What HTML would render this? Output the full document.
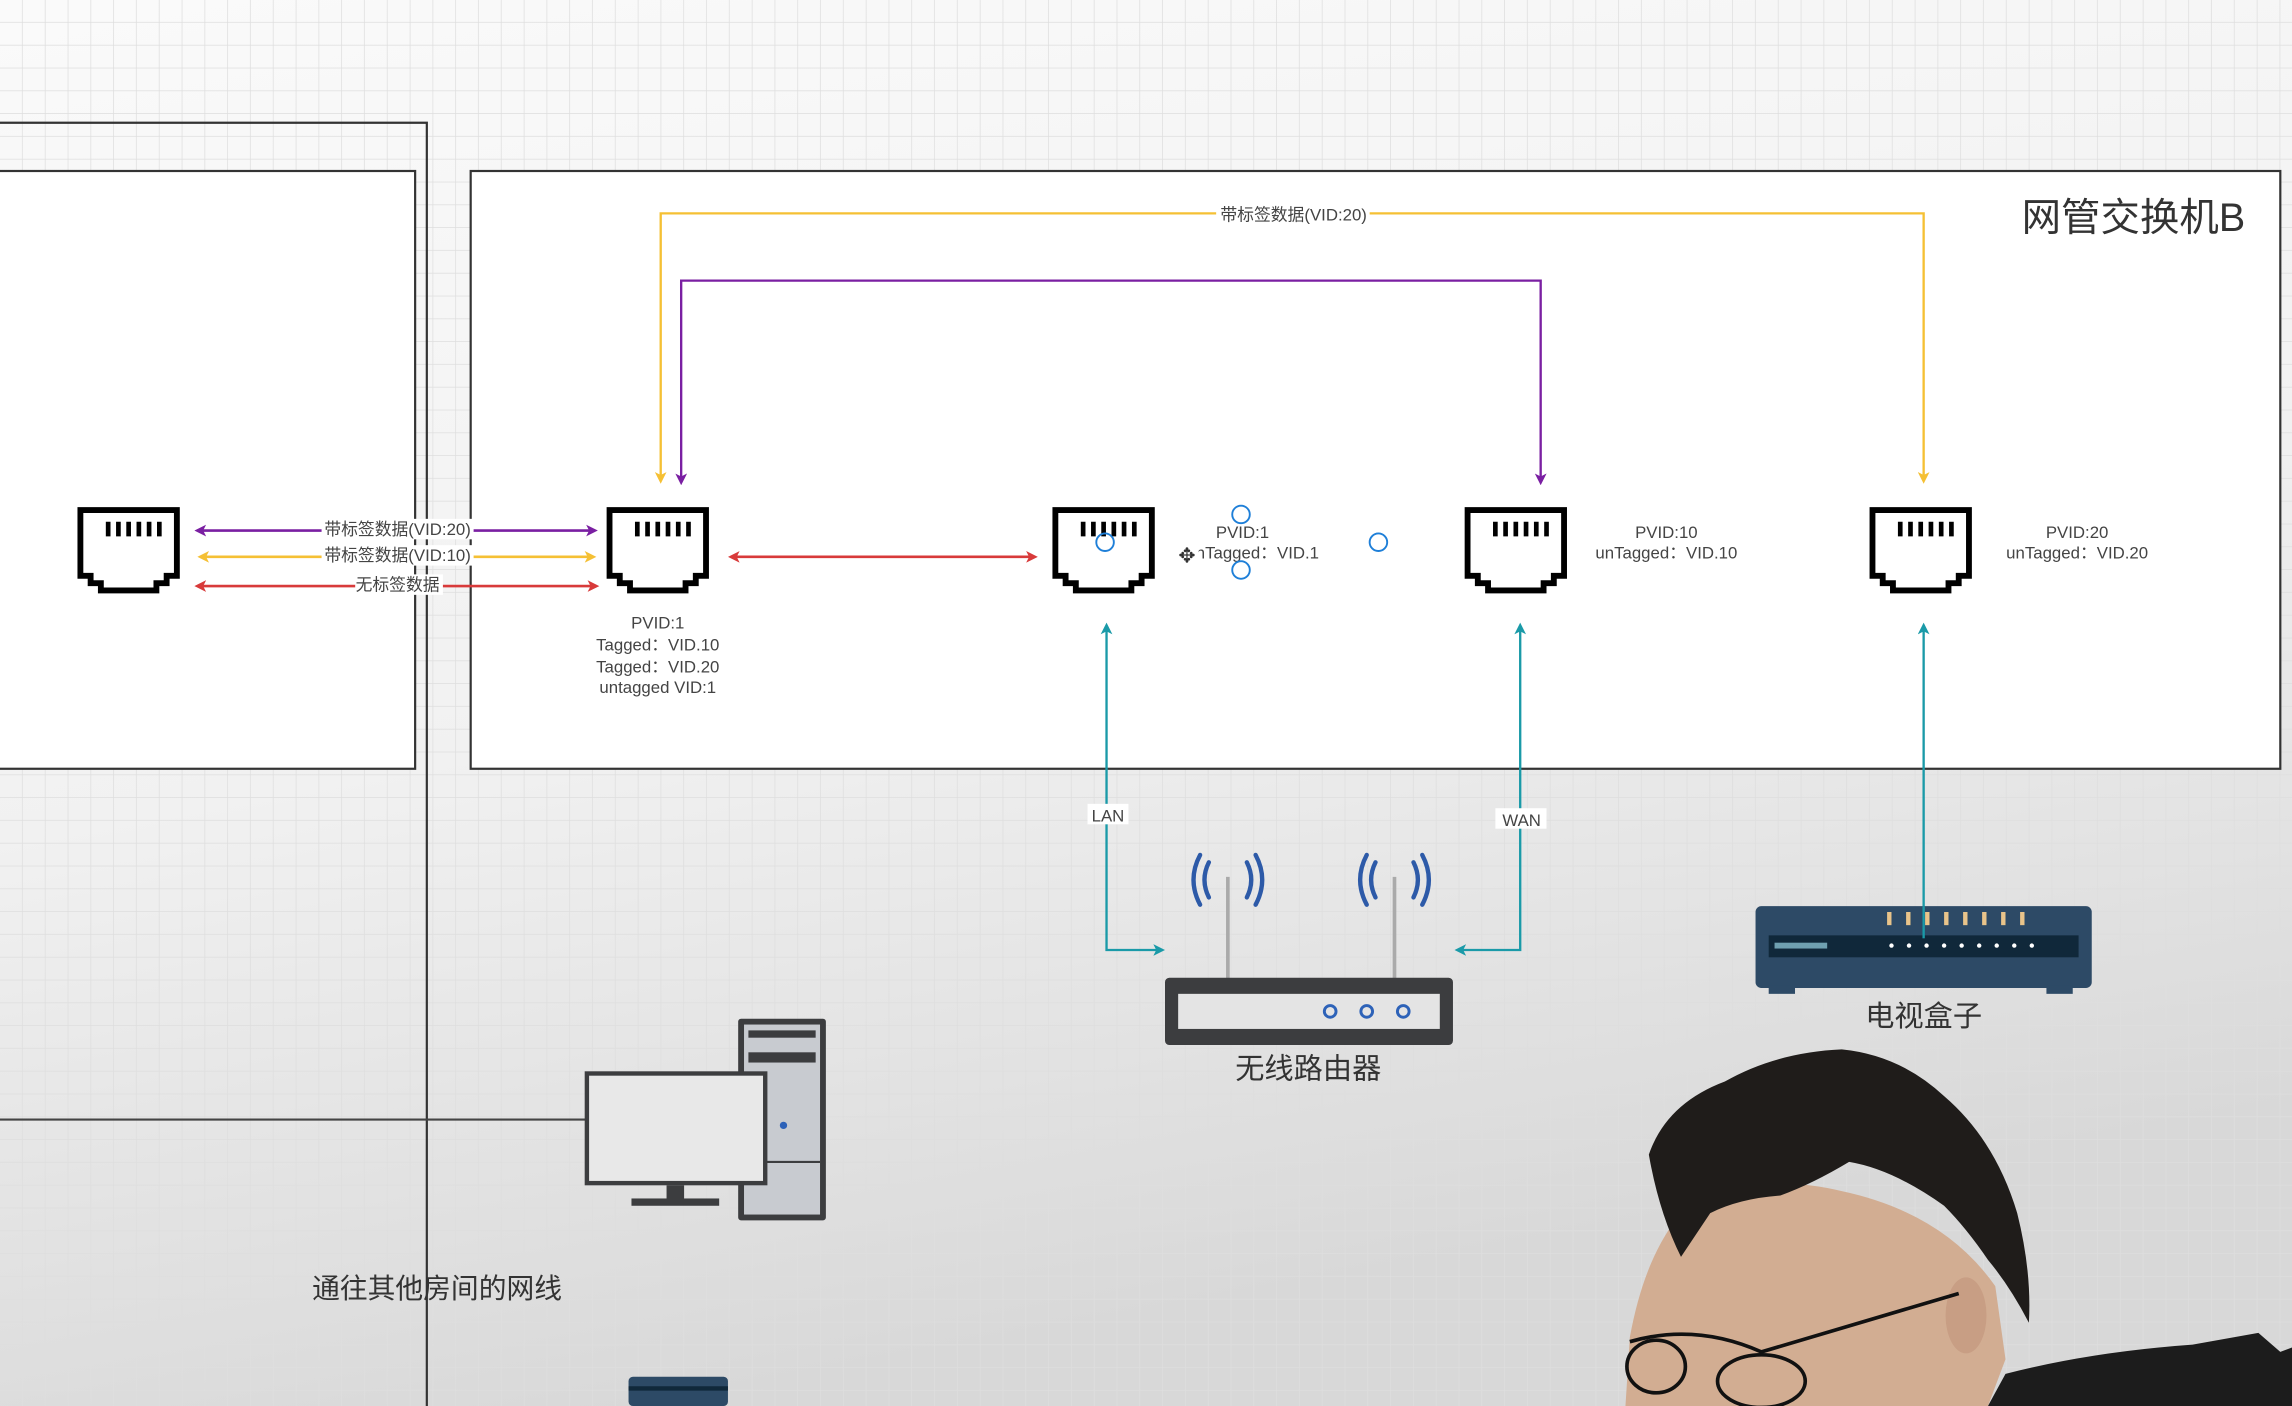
<!DOCTYPE html>
<html><head><meta charset="utf-8"><style>
html,body{margin:0;padding:0;width:2292px;height:1406px;overflow:hidden;background:#f2f2f2}
svg{display:block}
text{font-family:"Liberation Sans","Noto Sans CJK SC",sans-serif}
</style></head><body>
<svg width="2292" height="1406" viewBox="0 0 1568 962" preserveAspectRatio="none" xmlns="http://www.w3.org/2000/svg">
<defs>
<linearGradient id="bg" x1="0" y1="0" x2="0.3" y2="1">
<stop offset="0" stop-color="#fafafa"/><stop offset="0.55" stop-color="#f1f1f1"/><stop offset="1" stop-color="#d8d8d8"/>
</linearGradient>
<pattern id="grid" width="15.6" height="15.6" patternUnits="userSpaceOnUse">
<path d="M15.6 0V15.6M0 15.6H15.6" stroke="#dedede" stroke-width="1" fill="none"/>
</pattern>
<g id="rj">
<path d="M2 2H68V47H61V52H54V57H16V52H9V47H2Z" fill="#fff" stroke="#000" stroke-width="4" stroke-linejoin="miter"/>
<g stroke="#000" stroke-width="3.2"><path d="M21 10V20M28 10V20M35 10V20M42 10V20M49 10V20"/><path d="M56 10V20"/></g>
</g>
<marker id="mP" markerWidth="8" markerHeight="8" refX="6" refY="4" orient="auto-start-reverse" markerUnits="userSpaceOnUse"><path d="M0 0L8 4L0 8L2 4Z" fill="#7a1fa2"/></marker>
<marker id="mY" markerWidth="8" markerHeight="8" refX="6" refY="4" orient="auto-start-reverse" markerUnits="userSpaceOnUse"><path d="M0 0L8 4L0 8L2 4Z" fill="#f5c034"/></marker>
<marker id="mR" markerWidth="8" markerHeight="8" refX="6" refY="4" orient="auto-start-reverse" markerUnits="userSpaceOnUse"><path d="M0 0L8 4L0 8L2 4Z" fill="#d83a3a"/></marker>
<marker id="mT" markerWidth="8" markerHeight="8" refX="6" refY="4" orient="auto-start-reverse" markerUnits="userSpaceOnUse"><path d="M0 0L8 4L0 8L2 4Z" fill="#1a9aa8"/></marker>
</defs>
<rect width="1568" height="962" fill="url(#bg)"/>
<rect width="1568" height="962" fill="url(#grid)"/>

<path d="M0 84H292V962" fill="none" stroke="#333" stroke-width="1.5"/>
<rect x="-5" y="117" width="289" height="409" fill="#fff" stroke="#333" stroke-width="1.5"/>
<line x1="0" y1="766" x2="402" y2="766" stroke="#444" stroke-width="1.5"/>
<rect x="322" y="117" width="1238" height="409" fill="#fff" stroke="#333" stroke-width="1.5"/>
<text x="1536" y="158" font-size="27" fill="#333" text-anchor="end">网管交换机B</text>

<path d="M1316 329V146H452V329" fill="none" stroke="#f5c034" stroke-width="1.6" marker-start="url(#mY)" marker-end="url(#mY)"/>
<rect x="832" y="139" width="105" height="15" fill="#fff"/>
<text x="885" y="151" font-size="11.5" fill="#444" text-anchor="middle">带标签数据(VID:20)</text>
<path d="M466 330V192H1054V330" fill="none" stroke="#7a1fa2" stroke-width="1.6" marker-start="url(#mP)" marker-end="url(#mP)"/>

<use href="#rj" x="53" y="347"/>
<use href="#rj" x="415" y="347"/>
<use href="#rj" x="720" y="347"/>
<use href="#rj" x="1002" y="347"/>
<use href="#rj" x="1279" y="347"/>

<line x1="135" y1="363" x2="407" y2="363" stroke="#7a1fa2" stroke-width="1.8" marker-start="url(#mP)" marker-end="url(#mP)"/>
<line x1="137" y1="381" x2="406" y2="381" stroke="#f5c034" stroke-width="1.8" marker-start="url(#mY)" marker-end="url(#mY)"/>
<line x1="135" y1="401" x2="408" y2="401" stroke="#d83a3a" stroke-width="1.8" marker-start="url(#mR)" marker-end="url(#mR)"/>
<rect x="220" y="355" width="104" height="14" fill="#fff"/>
<rect x="220" y="373" width="104" height="14" fill="#fff"/>
<rect x="243" y="393" width="60" height="14" fill="#fff"/>
<text x="272" y="366" font-size="11.5" fill="#444" text-anchor="middle">带标签数据(VID:20)</text>
<text x="272" y="384" font-size="11.5" fill="#444" text-anchor="middle">带标签数据(VID:10)</text>
<text x="272" y="404" font-size="11.5" fill="#444" text-anchor="middle">无标签数据</text>
<line x1="500" y1="381" x2="708" y2="381" stroke="#d83a3a" stroke-width="1.8" marker-start="url(#mR)" marker-end="url(#mR)"/>

<g font-size="11.5" fill="#444" text-anchor="middle">
<text x="450" y="430">PVID:1</text>
<text x="450" y="445">Tagged：VID.10</text>
<text x="450" y="460">Tagged：VID.20</text>
<text x="450" y="474">untagged VID:1</text>
<text x="850" y="368">PVID:1</text>
<text x="857" y="382">unTagged：VID.1</text>
<text x="1140" y="368">PVID:10</text>
<text x="1140" y="382">unTagged：VID.10</text>
<text x="1421" y="368">PVID:20</text>
<text x="1421" y="382">unTagged：VID.20</text>
</g>
<g fill="none" stroke="#1e7fd8" stroke-width="1.3">
<circle cx="849" cy="352" r="6"/><circle cx="849" cy="390" r="6"/><circle cx="943" cy="371" r="6"/><circle cx="756" cy="371" r="6"/>
</g>
<rect x="805" y="372" width="15" height="14" fill="#fff"/>
<text x="812" y="385" font-size="14" fill="#333" text-anchor="middle">✥</text>

<path d="M757 428V650H795" fill="none" stroke="#1a9aa8" stroke-width="1.6" marker-start="url(#mT)" marker-end="url(#mT)"/>
<path d="M1040 428V650H997" fill="none" stroke="#1a9aa8" stroke-width="1.6" marker-start="url(#mT)" marker-end="url(#mT)"/>
<path d="M1316 428V642" fill="none" stroke="#1a9aa8" stroke-width="1.6" marker-start="url(#mT)"/>
<rect x="744" y="550" width="28" height="14" fill="#fff"/>
<text x="758" y="562" font-size="11.5" fill="#444" text-anchor="middle">LAN</text>
<rect x="1023" y="553" width="35" height="14" fill="#fff"/>
<text x="1041" y="565" font-size="11.5" fill="#444" text-anchor="middle">WAN</text>

<g>
<line x1="840" y1="600" x2="840" y2="671" stroke="#aaa" stroke-width="2.5"/>
<line x1="954" y1="600" x2="954" y2="671" stroke="#aaa" stroke-width="2.5"/>
<g fill="none" stroke="#2d5aa8" stroke-width="3" stroke-linecap="round">
<path d="M827 590Q821 602 827 614M821 585Q812 602 821 619M853 590Q859 602 853 614M859 585Q868 602 859 619"/>
<path d="M941 590Q935 602 941 614M935 585Q926 602 935 619M967 590Q973 602 967 614M973 585Q982 602 973 619"/>
</g>
<rect x="797" y="669" width="197" height="46" rx="3" fill="#3c3d3f"/>
<rect x="806" y="680" width="179" height="24" fill="#e4e4e4"/>
<g fill="none" stroke="#2d62b8" stroke-width="2"><circle cx="910" cy="692" r="4"/><circle cx="935" cy="692" r="4"/><circle cx="960" cy="692" r="4"/></g>
<text x="895" y="738" font-size="20" fill="#333" text-anchor="middle">无线路由器</text>
</g>

<g>
<rect x="1201" y="620" width="230" height="56" rx="4" fill="#2d4a66"/>
<rect x="1210" y="640" width="212" height="15" fill="#10283a"/>
<rect x="1214" y="645" width="36" height="4" fill="#6fa0b0"/>
<g fill="#e9c48a"><rect x="1291" y="624" width="3" height="9"/><rect x="1304" y="624" width="3" height="9"/><rect x="1317" y="624" width="3" height="9"/><rect x="1330" y="624" width="3" height="9"/><rect x="1343" y="624" width="3" height="9"/><rect x="1356" y="624" width="3" height="9"/><rect x="1369" y="624" width="3" height="9"/><rect x="1382" y="624" width="3" height="9"/></g>
<g fill="#fff"><circle cx="1294" cy="647" r="1.5"/><circle cx="1306" cy="647" r="1.5"/><circle cx="1318" cy="647" r="1.5"/><circle cx="1330" cy="647" r="1.5"/><circle cx="1342" cy="647" r="1.5"/><circle cx="1354" cy="647" r="1.5"/><circle cx="1366" cy="647" r="1.5"/><circle cx="1378" cy="647" r="1.5"/><circle cx="1390" cy="647" r="1.5"/></g>
<rect x="1210" y="674" width="18" height="6" fill="#2d4a66"/><rect x="1400" y="674" width="18" height="6" fill="#2d4a66"/>
<line x1="1316" y1="620" x2="1316" y2="642" stroke="#1a9aa8" stroke-width="1.6"/>
<text x="1316" y="702" font-size="20" fill="#333" text-anchor="middle">电视盒子</text>
</g>

<g>
<rect x="505" y="697" width="60" height="138" rx="2" fill="#3c3d3f"/>
<rect x="509" y="701" width="52" height="130" fill="#c8cbd0"/>
<rect x="512" y="705" width="46" height="5" fill="#3c3d3f"/>
<rect x="512" y="720" width="46" height="7" fill="#3c3d3f"/>
<line x1="509" y1="795" x2="561" y2="795" stroke="#3c3d3f" stroke-width="1.5"/>
<circle cx="536" cy="770" r="2.5" fill="#2d62b8"/>
<rect x="400" y="733" width="125" height="78" fill="#3c3d3f"/>
<rect x="403" y="736" width="119" height="72" fill="#e8e8e8"/>
<rect x="456" y="811" width="12" height="10" fill="#3c3d3f"/>
<rect x="432" y="820" width="60" height="5" fill="#3c3d3f"/>
</g>
<text x="299" y="888" font-size="19" fill="#333" text-anchor="middle">通往其他房间的网线</text>
<rect x="430" y="942" width="68" height="20" rx="3" fill="#2d4a66"/>
<line x1="430" y1="950" x2="498" y2="950" stroke="#10283a" stroke-width="3"/>

<!-- person -->
<g>
<path d="M1360 962L1372 940Q1430 925 1500 920L1545 912L1560 925L1568 922V962Z" fill="#1c1c1c"/>
<path d="M1112 962L1115 915Q1125 860 1150 830Q1200 800 1260 815Q1330 830 1365 880L1372 930L1360 962Z" fill="#d2ad92"/>
<path d="M1128 790Q1140 755 1180 740Q1215 720 1260 718Q1300 722 1330 750Q1365 780 1380 830Q1390 870 1388 905Q1375 880 1360 862Q1345 840 1330 825Q1295 800 1265 795Q1240 810 1218 818Q1190 820 1170 830L1150 860Q1135 830 1128 790Z" fill="#1f1c1a"/>
<ellipse cx="1345" cy="900" rx="14" ry="26" fill="#c89e84"/>
<path d="M1115 918Q1160 905 1205 925L1340 885" fill="none" stroke="#111" stroke-width="2.5"/>
<ellipse cx="1133" cy="935" rx="20" ry="18" fill="none" stroke="#111" stroke-width="2.5"/>
<ellipse cx="1205" cy="945" rx="30" ry="18" fill="none" stroke="#111" stroke-width="2.5"/>
</g>
</svg>
</body></html>
